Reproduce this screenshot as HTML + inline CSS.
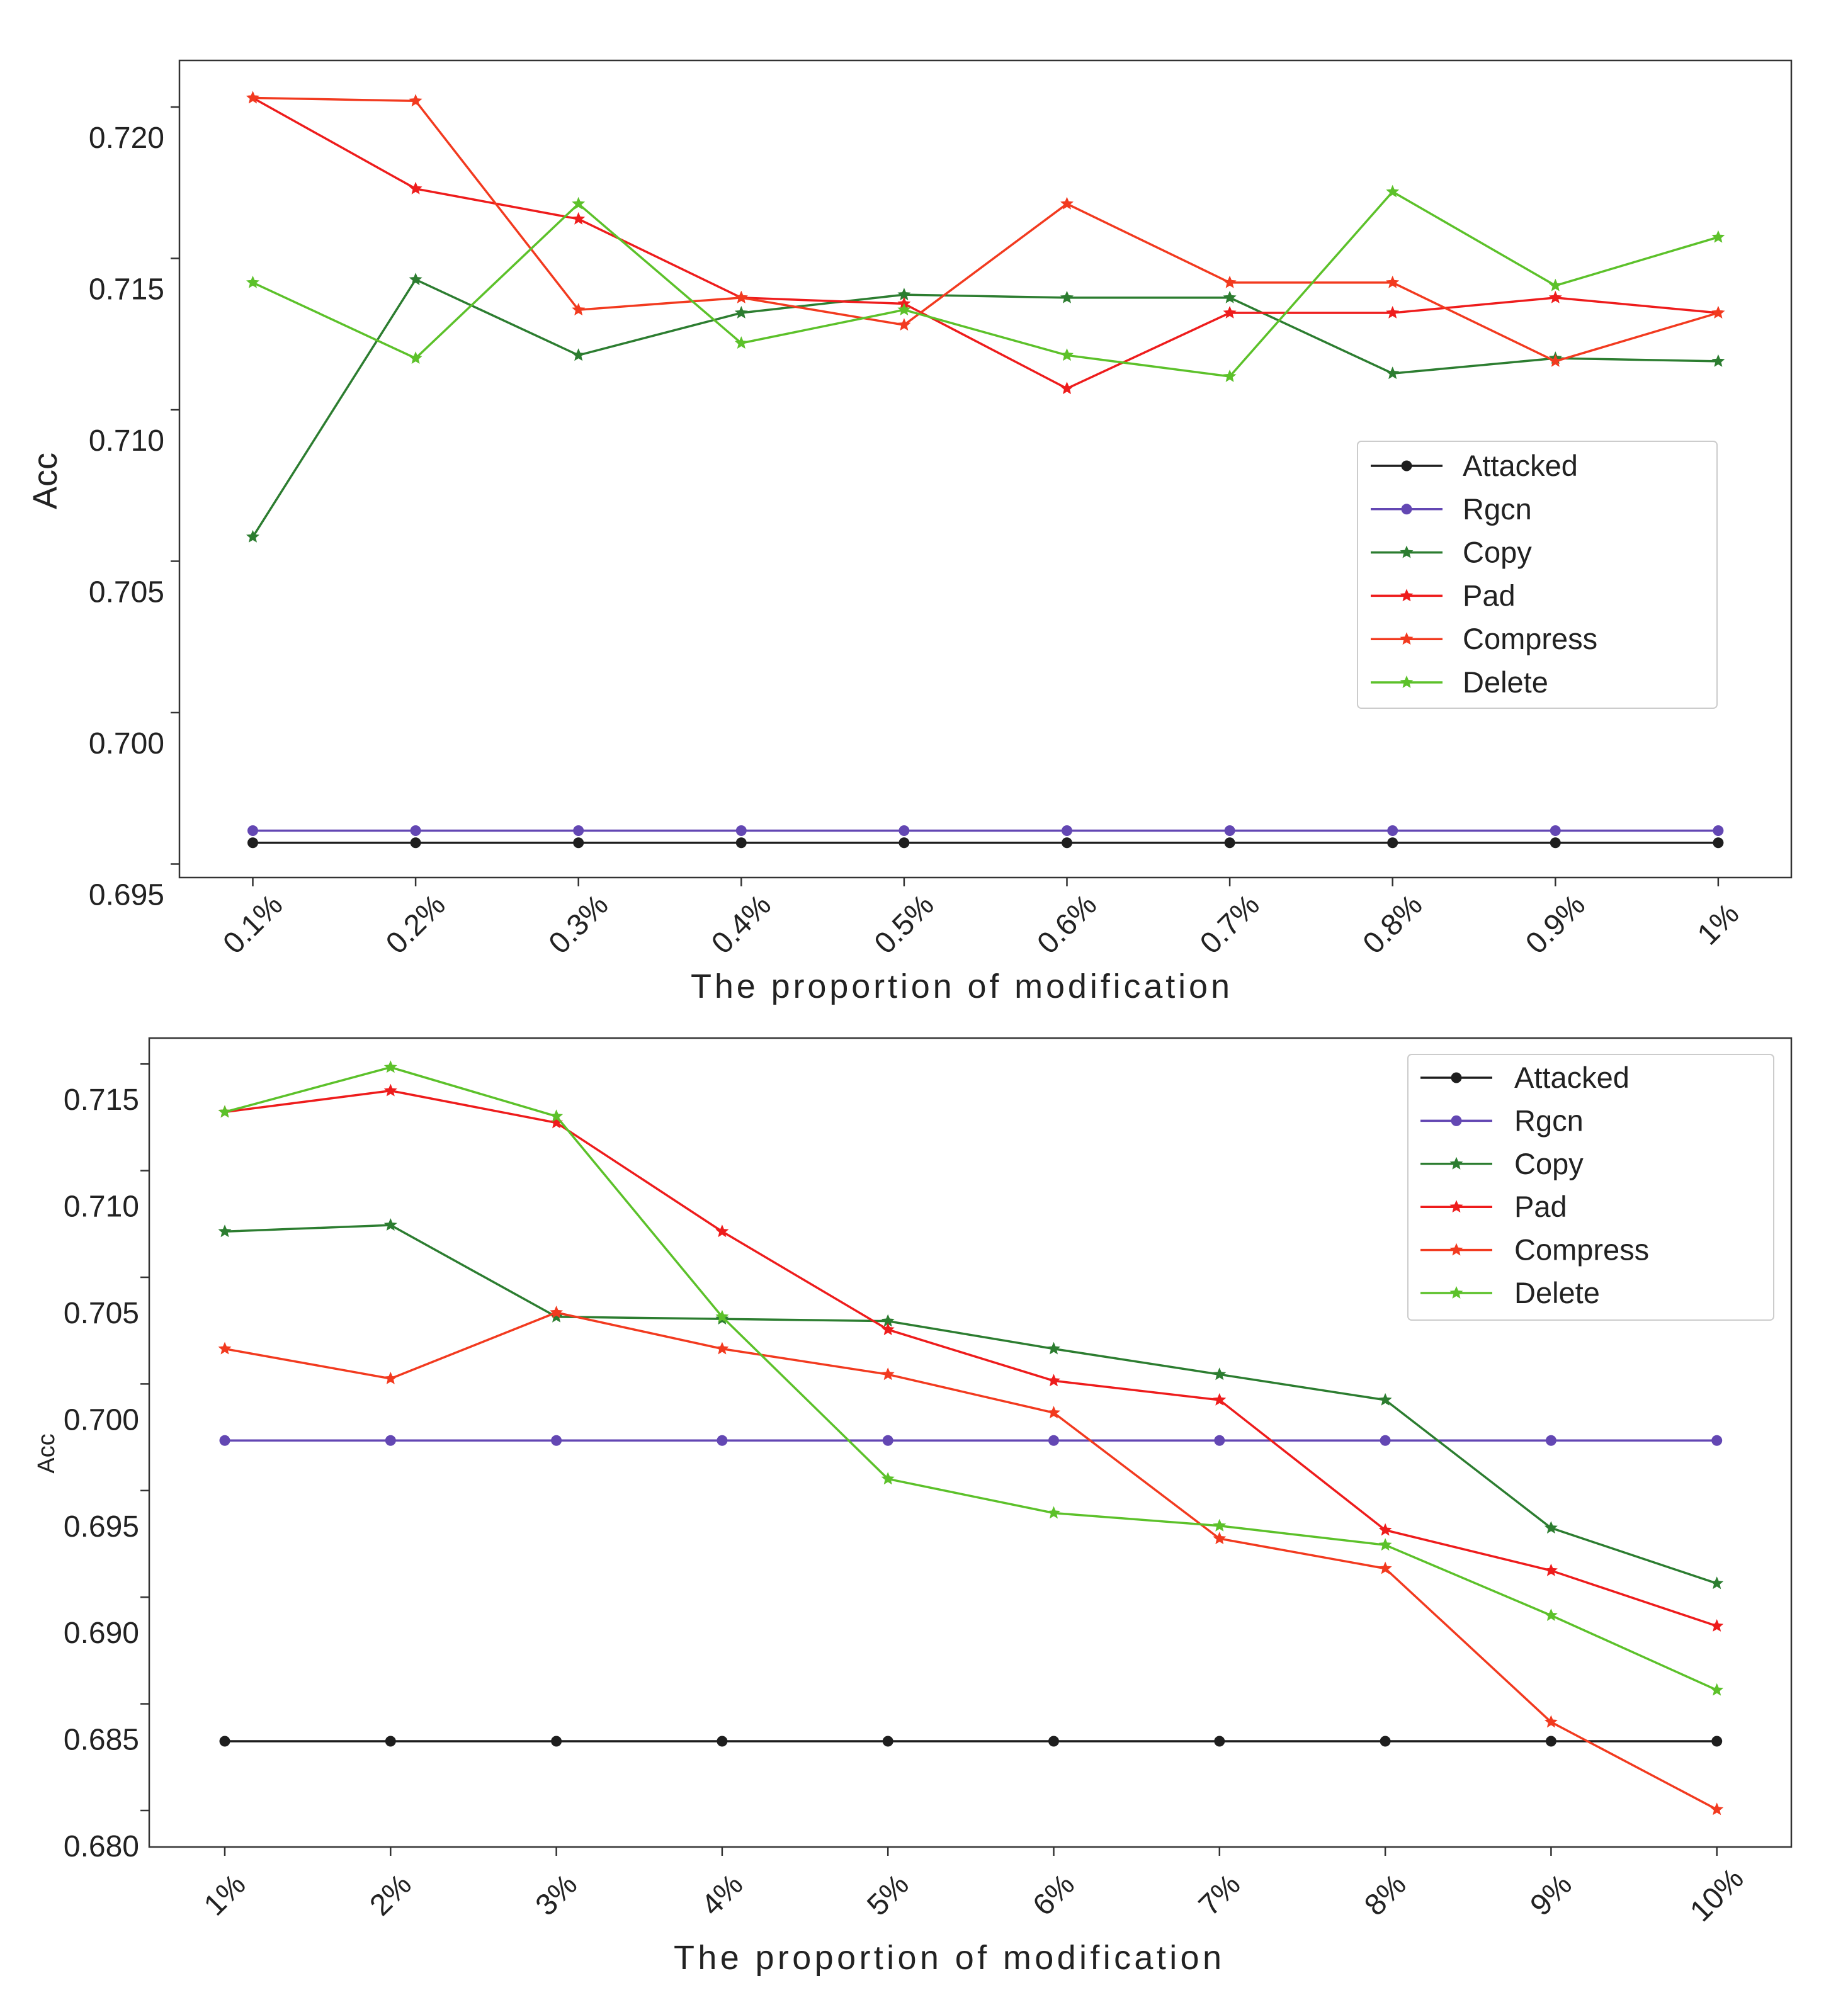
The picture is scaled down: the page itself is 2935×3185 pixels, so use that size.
<!DOCTYPE html>
<html><head><meta charset="utf-8"><style>
html,body{margin:0;padding:0;background:#fff;}
svg{display:block;font-family:"Liberation Sans","DejaVu Sans",sans-serif;}
</style></head><body>
<svg id="fig" width="2935" height="3185" viewBox="0 0 2935 3185" xmlns="http://www.w3.org/2000/svg"></svg>
<script>
const seriesNames = ["Attacked","Rgcn","Copy","Pad","Compress","Delete"];
const seriesColors = ["#1e1e1e","#6347b3","#2c7d30","#ee1c1c","#f23a1f","#5cc12a"];
const seriesMarkers = ["circle","circle","star","star","star","star"];

const cats1 = ["0.1%","0.2%","0.3%","0.4%","0.5%","0.6%","0.7%","0.8%","0.9%","1%"];
const ticks1 = [0.695,0.700,0.705,0.710,0.715,0.720];
const attacked1 = [0.6967,0.6967,0.6967,0.6967,0.6967,0.6967,0.6967,0.6967,0.6967,0.6967];
const rgcn1 = [0.6971,0.6971,0.6971,0.6971,0.6971,0.6971,0.6971,0.6971,0.6971,0.6971];
const copy1 = [0.7068,0.7153,0.7128,0.7142,0.7148,0.7147,0.7147,0.7122,0.7127,0.7126];
const pad1 = [0.7213,0.7183,0.7173,0.7147,0.7145,0.7117,0.7142,0.7142,0.7147,0.7142];
const compress1 = [0.7213,0.7212,0.7143,0.7147,0.7138,0.7178,0.7152,0.7152,0.7126,0.7142];
const delete1 = [0.7152,0.7127,0.7178,0.7132,0.7143,0.7128,0.7121,0.7182,0.7151,0.7167];

const cats2 = ["1%","2%","3%","4%","5%","6%","7%","8%","9%","10%"];
const ticks2 = [0.680,0.685,0.690,0.695,0.700,0.705,0.710,0.715];
const attacked2 = [0.6849,0.6849,0.6849,0.6849,0.6849,0.6849,0.6849,0.6849,0.6849,0.6849];
const rgcn2 = [0.6990,0.6990,0.6990,0.6990,0.6990,0.6990,0.6990,0.6990,0.6990,0.6990];
const copy2 = [0.7088,0.7091,0.7048,0.7047,0.7046,0.7033,0.7021,0.7009,0.6949,0.6923];
const pad2 = [0.7144,0.7154,0.7139,0.7088,0.7042,0.7018,0.7009,0.6948,0.6929,0.6903];
const compress2 = [0.7033,0.7019,0.7050,0.7033,0.7021,0.7003,0.6944,0.6930,0.6858,0.6817];
const delete2 = [0.7144,0.7165,0.7142,0.7048,0.6972,0.6956,0.6950,0.6941,0.6908,0.6873];

const NS="http://www.w3.org/2000/svg";
const svg=document.getElementById('fig');
function mk(tag,attrs,parent){const e=document.createElementNS(NS,tag);for(const k in attrs)e.setAttribute(k,attrs[k]);(parent||svg).appendChild(e);return e;}
function starPts(cx,cy,R){const r=R*0.45;let p=[];for(let i=0;i<10;i++){const a=-Math.PI/2+i*Math.PI/5;const rr=i%2?r:R;p.push((cx+rr*Math.cos(a)).toFixed(1)+','+(cy+rr*Math.sin(a)).toFixed(1));}return p.join(' ');}

function drawChart(cfg){
  const g=mk('g',{});
  
  
  const xS=i=>cfg.x0+i*cfg.dx;
  const yS=v=>cfg.yRef+(cfg.vRef-v)*cfg.ppu;
  const fr=mk('rect',{x:cfg.L,y:cfg.T,width:cfg.R-cfg.L,height:cfg.B-cfg.T,fill:'none',stroke:'#333',"stroke-width":2.5},g);
  
  
  cfg.ticks.forEach(v=>{
    const y=yS(v);
    const tl=mk('line',{x1:cfg.L-14,x2:cfg.L,y1:y-cfg.tickOff,y2:y-cfg.tickOff,stroke:'#333',"stroke-width":2.5},g);
    
    
    const t=mk('text',{x:cfg.L-cfg.labGap,y:y+17,"text-anchor":'end',"font-size":48,fill:'#222'},g);
    t.textContent=v.toFixed(3);
    
    
  });
  cfg.cats.forEach((c,i)=>{
    const x=xS(i);
    const tl=mk('line',{x1:x,x2:x,y1:cfg.B,y2:cfg.B+14,stroke:'#333',"stroke-width":2.5},g);
    
    
    const t=mk('text',{x:x,y:cfg.xLabY+16,"text-anchor":'middle',"font-size":48,fill:'#222',transform:`rotate(-45 ${x} ${cfg.xLabY})`},g);
    t.textContent=c;
    
    
  });
  cfg.series.forEach((vals,s)=>{
    const sg=mk('g',{},g);
    
    
    const pts=vals.map((v,i)=>xS(i).toFixed(1)+','+yS(v).toFixed(1)).join(' ');
    const pl=mk('polyline',{points:pts,fill:'none',stroke:seriesColors[s],"stroke-width":3.5},sg);
    
    
    vals.forEach((v,i)=>{
      let m;
      if(seriesMarkers[s]==='circle') m=mk('circle',{cx:xS(i),cy:yS(v),r:8.5,fill:seriesColors[s]},sg);
      else m=mk('polygon',{points:starPts(xS(i),yS(v),11),fill:seriesColors[s]},sg);
      
      
    });
  });
  const xt=mk('text',{x:cfg.xTitleX,y:cfg.xTitleY,"text-anchor":'middle',"font-size":54,fill:'#222',textLength:cfg.xTitleLen,lengthAdjust:'spacing'},g);
  xt.textContent='The proportion of modification';
  
  
  const yt=mk('text',{x:cfg.yTitleX,y:cfg.yTitleY,"text-anchor":'middle',"font-size":cfg.yTitleSize,fill:'#222',transform:`rotate(-90 ${cfg.yTitleX} ${cfg.yTitleY})`},g);
  yt.textContent='Acc';
  
  
  const lg=mk('g',{},g);
  
  
  const lb=mk('rect',{x:cfg.lg.x,y:cfg.lg.y,width:cfg.lg.w,height:cfg.lg.h,rx:6,fill:'#fff',"fill-opacity":0.85,stroke:'#ccc',"stroke-width":2},lg);
  
  
  seriesNames.forEach((n,s)=>{
    const y=cfg.lg.y0+s*cfg.lg.dy;
    const eg=mk('g',{},lg);
    
    
    mk('line',{x1:cfg.lg.lx,x2:cfg.lg.lx+114,y1:y,y2:y,stroke:seriesColors[s],"stroke-width":3.5},eg);
    if(seriesMarkers[s]==='circle') mk('circle',{cx:cfg.lg.lx+57,cy:y,r:8.5,fill:seriesColors[s]},eg);
    else mk('polygon',{points:starPts(cfg.lg.lx+57,y,11),fill:seriesColors[s]},eg);
    const t=mk('text',{x:cfg.lg.tx,y:y+16,"font-size":47,fill:'#222'},eg);
    t.textContent=n;
  });
}

drawChart({name:'chart-top',L:285,R:2845,T:96,B:1394,
  x0:401.5,dx:258.6,yRef:218,vRef:0.720,ppu:48100,tickOff:48,labGap:24,
  ticks:ticks1,cats:cats1,xLabY:1468,
  series:[attacked1,rgcn1,copy1,pad1,compress1,delete1],
  xTitleX:1525,xTitleY:1585,xTitleLen:856,yTitleX:90,yTitleY:764,yTitleSize:54,
  lg:{x:2156,y:701,w:571,h:424,y0:740,dy:68.8,lx:2177,tx:2323}});

drawChart({name:'chart-bottom',L:237,R:2845,T:1649,B:2934,
  x0:357,dx:263.3,yRef:2932,vRef:0.680,ppu:33880,tickOff:56,labGap:16,
  ticks:ticks2,cats:cats2,xLabY:3010,
  series:[attacked2,rgcn2,copy2,pad2,compress2,delete2],
  xTitleX:1505,xTitleY:3128,xTitleLen:870,yTitleX:86,yTitleY:2309,yTitleSize:38,
  lg:{x:2236,y:1675,w:581,h:422,y0:1712,dy:68.4,lx:2256,tx:2405}});
</script>
</body></html>
